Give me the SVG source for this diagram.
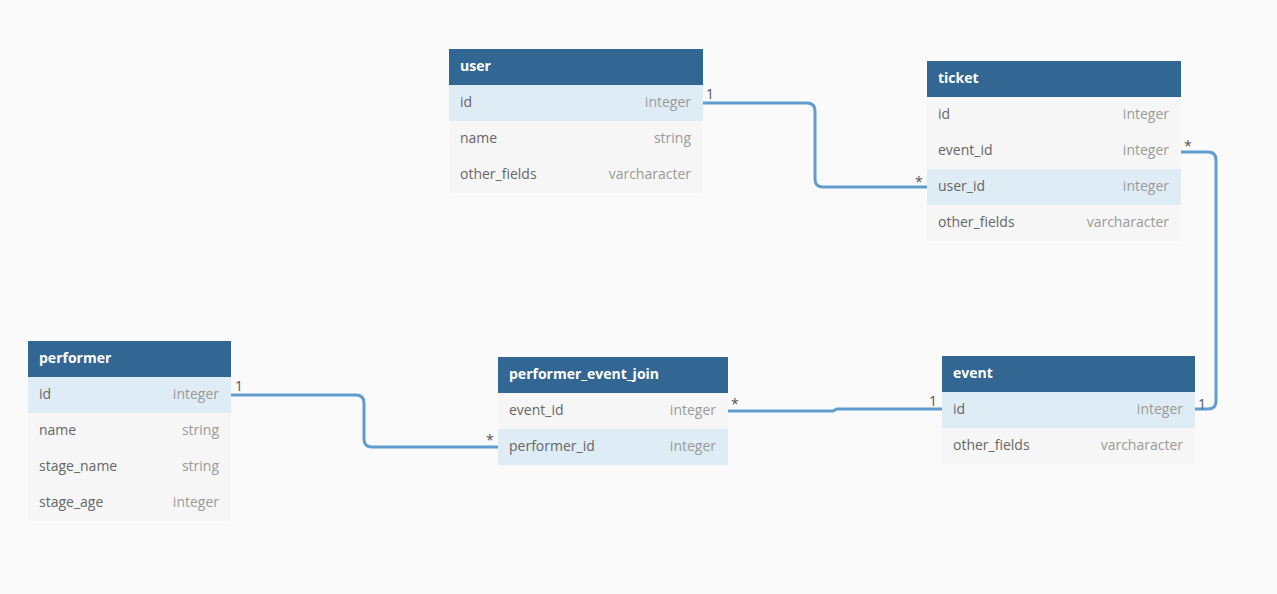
<svg xmlns="http://www.w3.org/2000/svg" width="1277" height="594" viewBox="0 0 1277 594">
<style>
.hd{fill:#326794}
.row{fill:#f6f6f6}
.hl{fill:#deedf5}
.ht{font-family:"Open Sans","Liberation Sans",sans-serif;font-size:14px;font-weight:bold;fill:#ffffff}
.fn{font-family:"Open Sans","Liberation Sans",sans-serif;font-size:14px;fill:#666666}
.ft{font-family:"Open Sans","Liberation Sans",sans-serif;font-size:14px;fill:#9a9a9a;text-anchor:end}
.con{fill:none;stroke:#5f9dd0;stroke-width:3}
.lb{font-family:"Open Sans","Liberation Sans",sans-serif;font-size:14px;fill:#555555}
</style>
<rect width="1277" height="594" fill="#fafafa"/>
<g id="connectors">
<path class="con" d="M703,103 H807 Q815,103 815,111 V179 Q815,187 823,187 H927"/>
<path class="con" d="M1181,152 H1208 Q1216,152 1216,160 V401 Q1216,409 1208,409 H1195"/>
<path class="con" d="M231,395 H356 Q364,395 364,403 V439 Q364,447 372,447 H498"/>
<path class="con" d="M728,411 H833 L837,409 H942"/>
<text class="lb" x="706" y="99">1</text>
<text class="lb" x="915" y="187">*</text>
<text class="lb" x="1184" y="151">*</text>
<text class="lb" x="1198" y="409">1</text>
<text class="lb" x="235" y="391">1</text>
<text class="lb" x="486" y="445">*</text>
<text class="lb" x="731" y="409">*</text>
<text class="lb" x="929" y="406">1</text>
</g>
<g id="user">
<rect class="hd" x="449" y="49" width="254" height="36"/>
<text class="ht" x="460" y="71">user</text>
<rect class="hl" x="449" y="85" width="254" height="36"/>
<rect class="row" x="449" y="121" width="254" height="72"/>
<text class="fn" x="460" y="107">id</text><text class="ft" x="691" y="107">integer</text>
<text class="fn" x="460" y="143">name</text><text class="ft" x="691" y="143">string</text>
<text class="fn" x="460" y="179">other_fields</text><text class="ft" x="691" y="179">varcharacter</text>
</g>
<g id="ticket">
<rect class="hd" x="927" y="61" width="254" height="36"/>
<text class="ht" x="938" y="83">ticket</text>
<rect class="row" x="927" y="97" width="254" height="72"/>
<rect class="hl" x="927" y="169" width="254" height="36"/>
<rect class="row" x="927" y="205" width="254" height="36"/>
<text class="fn" x="938" y="119">id</text><text class="ft" x="1169" y="119">integer</text>
<text class="fn" x="938" y="155">event_id</text><text class="ft" x="1169" y="155">integer</text>
<text class="fn" x="938" y="191">user_id</text><text class="ft" x="1169" y="191">integer</text>
<text class="fn" x="938" y="227">other_fields</text><text class="ft" x="1169" y="227">varcharacter</text>
</g>
<g id="performer">
<rect class="hd" x="28" y="341" width="203" height="36"/>
<text class="ht" x="39" y="363">performer</text>
<rect class="hl" x="28" y="377" width="203" height="36"/>
<rect class="row" x="28" y="413" width="203" height="108"/>
<text class="fn" x="39" y="399">id</text><text class="ft" x="219" y="399">integer</text>
<text class="fn" x="39" y="435">name</text><text class="ft" x="219" y="435">string</text>
<text class="fn" x="39" y="471">stage_name</text><text class="ft" x="219" y="471">string</text>
<text class="fn" x="39" y="507">stage_age</text><text class="ft" x="219" y="507">integer</text>
</g>
<g id="performer_event_join">
<rect class="hd" x="498" y="357" width="230" height="36"/>
<text class="ht" x="509" y="379">performer_event_join</text>
<rect class="row" x="498" y="393" width="230" height="36"/>
<rect class="hl" x="498" y="429" width="230" height="36"/>
<text class="fn" x="509" y="415">event_id</text><text class="ft" x="716" y="415">integer</text>
<text class="fn" x="509" y="451">performer_id</text><text class="ft" x="716" y="451">integer</text>
</g>
<g id="event">
<rect class="hd" x="942" y="356" width="253" height="36"/>
<text class="ht" x="953" y="378">event</text>
<rect class="hl" x="942" y="392" width="253" height="36"/>
<rect class="row" x="942" y="428" width="253" height="36"/>
<text class="fn" x="953" y="414">id</text><text class="ft" x="1183" y="414">integer</text>
<text class="fn" x="953" y="450">other_fields</text><text class="ft" x="1183" y="450">varcharacter</text>
</g>
</svg>
